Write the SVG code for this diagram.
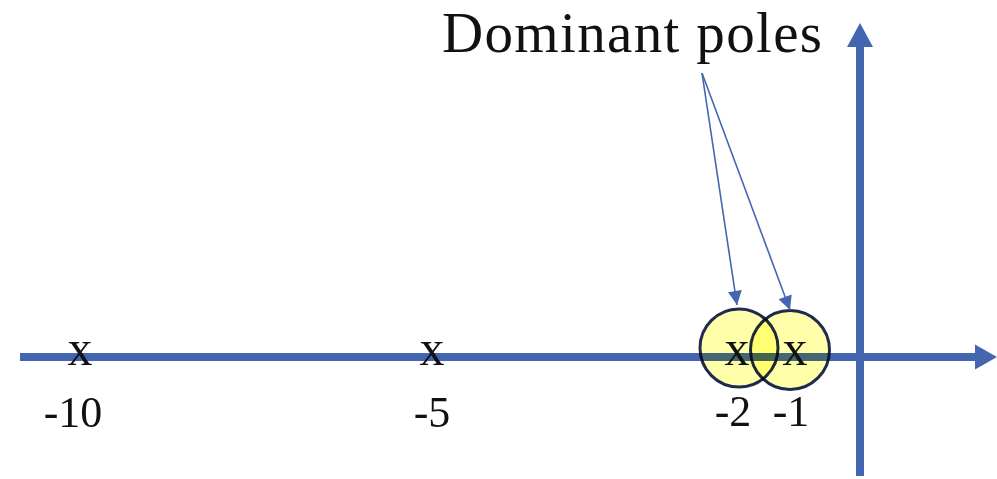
<svg xmlns="http://www.w3.org/2000/svg" width="997" height="479" viewBox="0 0 997 479">
<style>
.ax{stroke:#4466B0;stroke-width:8;fill:none}
.ah{fill:#4466B0}
.ptr{stroke:#4466B0;stroke-width:1.6;fill:none}
.pole{fill:#FFFFAA;stroke:#1F2A4F;stroke-width:3;mix-blend-mode:multiply}
.t{font-family:"Liberation Serif","Times New Roman",serif;fill:#111}
.x{font-size:50px;text-anchor:middle}
.n{font-size:44px;text-anchor:middle}
</style>
<defs>
<marker id="parr" viewBox="0 0 10 10" refX="10" refY="5" markerWidth="16" markerHeight="14" markerUnits="userSpaceOnUse" orient="auto">
<path d="M0,0 L10,5 L0,10 z" fill="#4466B0"/>
</marker>
</defs>
<g id="axes">
<line class="ax" x1="20" y1="357" x2="977" y2="357"/>
<path class="ah" d="M975,344.5 L997,357 L975,369.5 z"/>
<line class="ax" x1="860" y1="476" x2="860" y2="45"/>
<path class="ah" d="M847,47 L860,23 L873,47 z"/>
</g>
<g id="pole-10"><text class="t x" x="80" y="365">x</text><text class="t n" x="73" y="427">-10</text></g>
<g id="pole-5"><text class="t x" x="432" y="365">x</text><text class="t n" x="432" y="427">-5</text></g>
<g id="pole-2"><circle class="pole" cx="739" cy="348" r="39"/><text class="t x" x="737" y="365">x</text><text class="t n" x="733" y="426">-2</text></g>
<g id="pole-1"><circle class="pole" cx="790" cy="350" r="39.5"/><text class="t x" x="795" y="365">x</text><text class="t n" x="791" y="426">-1</text></g>
<g id="label"><text class="t" x="442" y="52" style="font-size:57px" textLength="380" lengthAdjust="spacing">Dominant poles</text></g>
<g id="connectors">
<line class="ptr" x1="702" y1="73" x2="737" y2="305" marker-end="url(#parr)"/>
<line class="ptr" x1="702" y1="73" x2="790" y2="310" marker-end="url(#parr)"/>
</g>
</svg>
